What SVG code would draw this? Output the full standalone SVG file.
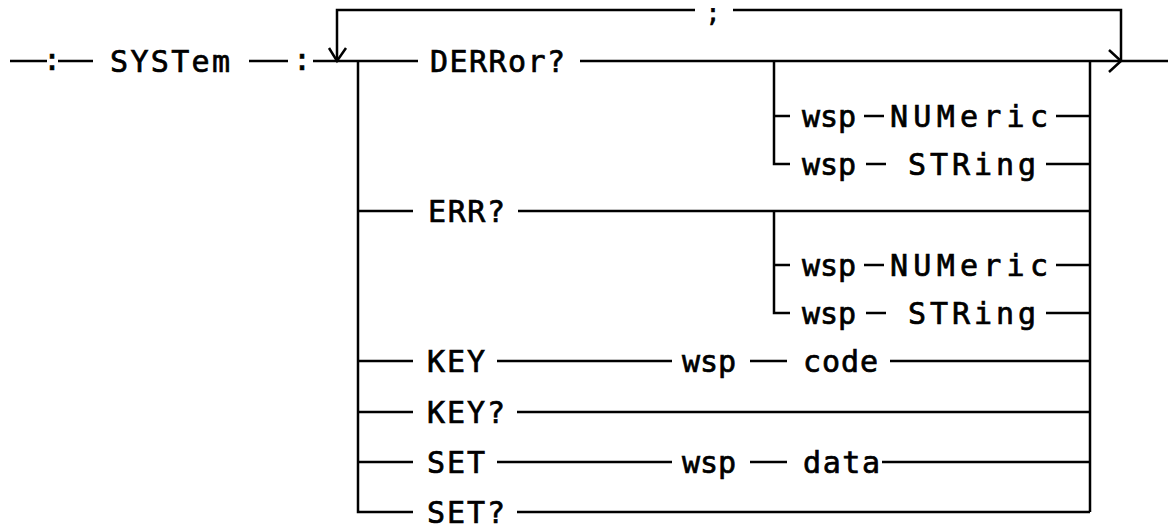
<svg xmlns="http://www.w3.org/2000/svg" width="1168" height="529" viewBox="0 0 1168 529">
<style>
  .t { font-family: "DejaVu Sans Mono", "Liberation Mono", monospace; font-size: 30px; fill: #000; stroke: #000; stroke-width: 0.7px; }
  .c { stroke: #000; stroke-width: 2.5; fill: none; stroke-linecap: butt; }
</style>
<rect width="1168" height="529" fill="#fff"/>
<g id="connectors" class="c">
  <!-- entry -->
  <path d="M10 61H47M58 61H93M249 61H288M313 61H418"/>
  <!-- repeat loop -->
  <path d="M337 61V10H695M733 10H1121V61"/>
  <path d="M329 48L337 61L346 48"/>
  <path d="M1109 50L1121 61L1109 72"/>
  <!-- main line -->
  <path d="M580 61H1168"/>
  <!-- left trunk -->
  <path d="M358 61V512H413"/>
  <path d="M358 211H413M358 361H413M358 412H413M358 462H413"/>
  <!-- right trunk -->
  <path d="M1090 61V512"/>
  <!-- ERR? -->
  <path d="M518 211H1090"/>
  <!-- KEY -->
  <path d="M497 361H672M750 361H787M890 361H1090"/>
  <!-- KEY? -->
  <path d="M517 412H1090"/>
  <!-- SET -->
  <path d="M497 462H672M750 462H787M882 462H1090"/>
  <!-- SET? -->
  <path d="M517 512H1090"/>
  <!-- sub branch 1 -->
  <path d="M774 61V164H790M774 116H790"/>
  <path d="M864 116H884M1056 116H1090M866 164H886M1046 164H1090"/>
  <!-- sub branch 2 -->
  <path d="M774 211V313H790M774 265H790"/>
  <path d="M864 265H884M1056 265H1090M866 313H886M1046 313H1090"/>
</g>
<g id="colon1"><text class="t" x="52" y="70" text-anchor="middle">:</text></g>
<g id="system"><text class="t" x="110" y="72" textLength="120" lengthAdjust="spacing">SYSTem</text></g>
<g id="colon2"><text class="t" x="302" y="70" text-anchor="middle">:</text></g>
<g id="semicolon"><text class="t" x="713" y="22" text-anchor="middle" style="font-size:24px">;</text></g>
<g id="derror"><text class="t" x="430" y="72" textLength="135" lengthAdjust="spacing">DERRor?</text></g>
<g id="d-numeric"><text class="t" x="802" y="127">wsp</text><text class="t" x="890" y="127" textLength="158" lengthAdjust="spacing">NUMeric</text></g>
<g id="d-string"><text class="t" x="802" y="175">wsp</text><text class="t" x="908" y="175" textLength="128" lengthAdjust="spacing">STRing</text></g>
<g id="err"><text class="t" x="428" y="222" textLength="77" lengthAdjust="spacing">ERR?</text></g>
<g id="e-numeric"><text class="t" x="802" y="276">wsp</text><text class="t" x="890" y="276" textLength="158" lengthAdjust="spacing">NUMeric</text></g>
<g id="e-string"><text class="t" x="802" y="324">wsp</text><text class="t" x="908" y="324" textLength="128" lengthAdjust="spacing">STRing</text></g>
<g id="key"><text class="t" x="427" y="372" textLength="58" lengthAdjust="spacing">KEY</text></g>
<g id="key-wsp"><text class="t" x="682" y="372">wsp</text></g>
<g id="code"><text class="t" x="803" y="372" textLength="75" lengthAdjust="spacing">code</text></g>
<g id="keyq"><text class="t" x="427" y="423" textLength="78" lengthAdjust="spacing">KEY?</text></g>
<g id="set"><text class="t" x="427" y="473" textLength="58" lengthAdjust="spacing">SET</text></g>
<g id="set-wsp"><text class="t" x="682" y="473">wsp</text></g>
<g id="data"><text class="t" x="803" y="473" textLength="77" lengthAdjust="spacing">data</text></g>
<g id="setq"><text class="t" x="427" y="523" textLength="78" lengthAdjust="spacing">SET?</text></g>
</svg>
